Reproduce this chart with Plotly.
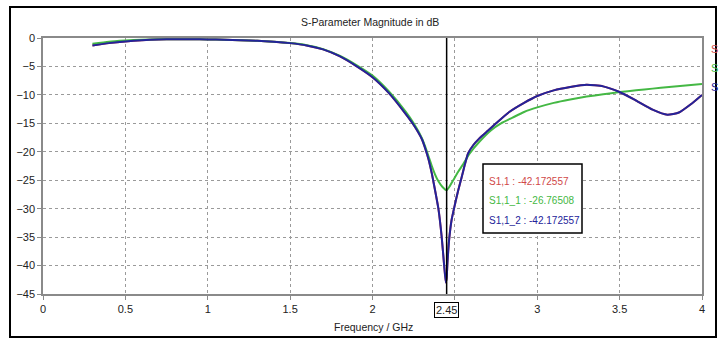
import plotly.graph_objects as go

# ---------------- data ----------------
freq_blue = [0.3, 0.4, 0.5, 0.6, 0.7, 0.8, 0.9, 1.0, 1.1, 1.2, 1.3, 1.4, 1.5, 1.6, 1.7,
             1.8, 1.9, 2.0, 2.1, 2.2, 2.25, 2.3, 2.32, 2.34, 2.36, 2.38, 2.40, 2.42, 2.435,
             2.445, 2.45, 2.455, 2.465, 2.48, 2.5, 2.52, 2.54, 2.56, 2.58, 2.61, 2.65,
             2.7, 2.75, 2.83, 2.92, 3.0, 3.1, 3.2, 3.3, 3.4, 3.5, 3.6, 3.7, 3.79, 3.86,
             3.93, 4.0]
s11_2_db = [-1.3, -0.9, -0.6, -0.38, -0.25, -0.2, -0.2, -0.25, -0.3, -0.4, -0.5, -0.65,
            -0.9, -1.3, -2.0, -3.2, -4.9, -6.9, -9.7, -13.3, -15.3, -17.8, -19.4, -21.3,
            -23.8, -26.8, -30.0, -35.0, -40.0, -43.0, -42.17, -39.5, -35.5, -32.0, -29.3,
            -26.8, -24.6, -22.3, -20.3, -18.9, -17.6, -16.3, -15.0, -13.0, -11.4, -10.2,
            -9.2, -8.6, -8.2, -8.5, -9.5, -11.0, -12.6, -13.5, -13.1, -11.7, -10.0]

freq_green = [0.3, 0.4, 0.5, 0.6, 0.7, 0.8, 0.9, 1.0, 1.1, 1.2, 1.3, 1.4, 1.5, 1.6, 1.7,
              1.8, 1.9, 2.0, 2.1, 2.2, 2.25, 2.3, 2.32, 2.34, 2.36, 2.38, 2.40, 2.425,
              2.45, 2.47, 2.49, 2.52, 2.55, 2.59, 2.65, 2.72, 2.78, 2.85, 2.92, 3.0, 3.1,
              3.2, 3.3, 3.4, 3.5, 3.6, 3.7, 3.8, 3.9, 4.0]
s11_1_db = [-1.0, -0.65, -0.45, -0.3, -0.22, -0.2, -0.2, -0.25, -0.3, -0.4, -0.5, -0.65,
            -0.88, -1.25, -1.95, -3.1, -4.7, -6.6, -9.4, -12.9, -15.0, -17.6, -19.1, -20.8,
            -22.5, -24.0, -25.2, -26.2, -26.77, -26.0, -25.0, -23.5, -22.2, -20.3, -18.2,
            -16.2, -15.0, -14.0, -13.0, -12.2, -11.4, -10.8, -10.3, -9.9, -9.5, -9.2,
            -8.9, -8.6, -8.35, -8.1]

x_ticks = [0, 0.5, 1, 1.5, 2, 2.5, 3, 3.5, 4]
x_ticktext = ["0", "0.5", "1", "1.5", "2", "", "3", "3.5", "4"]
y_ticks = [0, -5, -10, -15, -20, -25, -30, -35, -40, -45]

marker_freq = 2.45
marker_labels = ["S1,1 : -42.172557", "S1,1_1 : -26.76508", "S1,1_2 : -42.172557"]
series_names = ["S1,1", "S1,1_1", "S1,1_2"]
series_colors = ["#d04848", "#44b844", "#23239a"]

# ---------------- figure ----------------
FONT = "Liberation Sans, Arial, sans-serif"
W, H = 721, 339
L, R, T, B = 43, 19, 38, 45
pw, ph = W - L - R, H - T - B

def px_x(p):
    return (p - L) / pw

def px_y(p):
    return (H - B - p) / ph

fig = go.Figure()
fig.add_trace(go.Scatter(x=freq_blue, y=s11_2_db, mode="lines", name=series_names[0],
                         line=dict(color=series_colors[0], width=2, shape="spline", smoothing=0.5)))
fig.add_trace(go.Scatter(x=freq_green, y=s11_1_db, mode="lines", name=series_names[1],
                         line=dict(color=series_colors[1], width=2, shape="spline", smoothing=0.5)))
fig.add_trace(go.Scatter(x=freq_blue, y=s11_2_db, mode="lines", name=series_names[2],
                         line=dict(color=series_colors[2], width=2, shape="spline", smoothing=0.5)))

axis_common = dict(showline=True, linecolor="#8a8a8a", linewidth=1.5, mirror=True,
                   showgrid=True, gridcolor="#9a9a9a", griddash="dot", gridwidth=1,
                   zeroline=False, ticks="outside", ticklen=4, tickcolor="#8a8a8a",
                   tickfont=dict(family=FONT, size=11, color="#222"))

fig.update_xaxes(range=[0, 4], tickvals=x_ticks, ticktext=x_ticktext, **axis_common)
fig.update_yaxes(range=[-45, 0], tickvals=y_ticks, **axis_common)

shapes = [
    # outer frame
    dict(type="rect", xref="paper", yref="paper", x0=px_x(10), x1=px_x(716),
         y0=px_y(337), y1=px_y(7), line=dict(color="black", width=2), layer="below"),
    # marker line
    dict(type="line", xref="x", yref="paper", x0=marker_freq, x1=marker_freq, y0=0, y1=1,
         line=dict(color="black", width=1.5)),
    # marker value box
    dict(type="rect", xref="paper", yref="paper", x0=px_x(483), x1=px_x(582),
         y0=px_y(233), y1=px_y(164), line=dict(color="black", width=1.5),
         fillcolor="white", layer="above"),
]

annotations = [
    dict(text="S-Parameter Magnitude in dB", xref="paper", yref="paper",
         x=px_x(370), y=px_y(22), showarrow=False, xanchor="center", yanchor="middle",
         font=dict(family=FONT, size=10.5, color="#222")),
    dict(text="Frequency / GHz", xref="paper", yref="paper",
         x=px_x(373), y=px_y(327), showarrow=False, xanchor="center", yanchor="middle",
         font=dict(family=FONT, size=10.5, color="#222")),
    dict(text="2.45", xref="x", yref="paper", x=marker_freq, y=px_y(310),
         showarrow=False, xanchor="center", yanchor="middle",
         bordercolor="black", borderwidth=1, borderpad=1, bgcolor="white",
         font=dict(family=FONT, size=11, color="#222")),
]
for i, (txt, col) in enumerate(zip(marker_labels, series_colors)):
    annotations.append(dict(text=txt, xref="paper", yref="paper", x=px_x(487),
                            y=px_y(181 + 19.5 * i), showarrow=False, xanchor="left",
                            yanchor="middle", font=dict(family=FONT, size=10, color=col)))
for i, col in enumerate(series_colors):
    annotations.append(dict(text="S", xref="paper", yref="paper", x=px_x(709),
                            y=px_y(49 + 19 * i), showarrow=False, xanchor="left",
                            yanchor="middle", font=dict(family=FONT, size=11, color=col)))

fig.update_layout(width=W, height=H, margin=dict(l=L, r=R, t=T, b=B, pad=0),
                  paper_bgcolor="white", plot_bgcolor="white", showlegend=False,
                  shapes=shapes, annotations=annotations)

fig.write_html("out.html", config={"displayModeBar": False},
               post_script="document.body.style.margin='0';")
